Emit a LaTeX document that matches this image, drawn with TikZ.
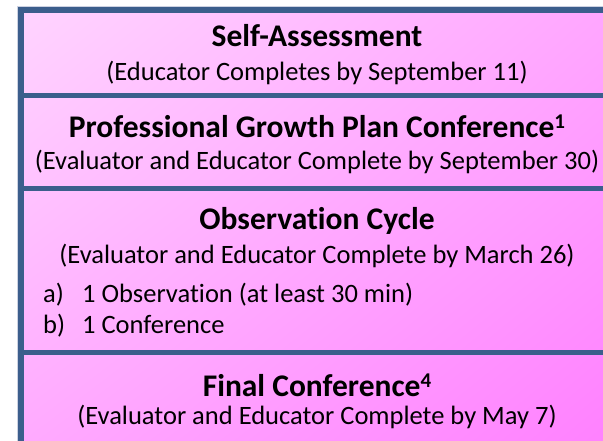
\documentclass[tikz,border=0pt]{standalone}
\usepackage{fontspec}
\setmainfont[Ligatures=NoCommon]{Carlito}
\usetikzlibrary{shadings}
\definecolor{frameblue}{RGB}{59,94,140}
\definecolor{haze}{RGB}{205,210,226}
\definecolor{pinkUL}{RGB}{255,212,255}
\definecolor{pinkUR}{RGB}{255,166,255}
\definecolor{pinkLL}{RGB}{255,170,255}
\definecolor{pinkLR}{RGB}{255,128,255}
\newcommand{\supnum}[1]{\raisebox{8.5pt}{\fontsize{21}{21}\selectfont\bfseries #1}}
\begin{document}
\begin{tikzpicture}[x=1pt,y=-1pt,
  title/.style={anchor=base,inner sep=0pt,font=\fontsize{31.5}{36}\selectfont\bfseries},
  sub/.style={anchor=base,inner sep=0pt,font=\fontsize{26.5}{31}\selectfont},
  item/.style={anchor=base west,inner sep=0pt,font=\fontsize{26.5}{31}\selectfont}]
\useasboundingbox (0,0) rectangle (603,440);
\clip (0,0) rectangle (603,440);
% frame and dividers
\shade[upper left=pinkUL,upper right=pinkUR,lower left=pinkLL,lower right=pinkLR] (21,10) rectangle (613,446);
\draw[haze,line width=1pt] (17.5,6.5) rectangle (616.5,449.5);
\draw[frameblue,line width=5.5pt] (21,10) rectangle (613,446);
\foreach \y in {95,188,352}
  \draw[frameblue,line width=5pt] (21,\y) -- (613,\y);
% texts
\node[title] (selfT) at (317,46) {Self-Assessment};
\node[sub] (selfS) at (317,80) {(Educator Completes by September 11)};
\node[title] (growT) at (317,137) {Professional Growth Plan Conference\supnum{1}};
\node[sub] (growS) at (317,169) {(Evaluator and Educator Complete by September 30)};
\node[title] (obsT) at (317,229) {Observation Cycle};
\node[sub] (obsS) at (317,263) {(Evaluator and Educator Complete by March 26)};
\node[item] (obsA) at (43,302) {a)};
\node[item] (obsAt) at (82,302) {1 Observation (at least 30 min)};
\node[item] (obsB) at (43,333) {b)};
\node[item] (obsBt) at (82,333) {1 Conference};
\node[title] (finT) at (317,396) {Final Conference\supnum{4}};
\node[sub] (finS) at (317,424) {(Evaluator and Educator Complete by May 7)};
\end{tikzpicture}
\end{document}
